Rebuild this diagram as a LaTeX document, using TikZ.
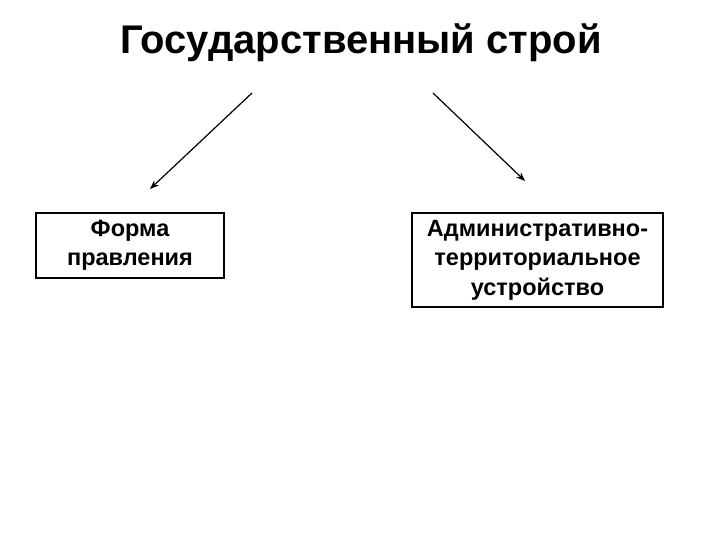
\documentclass[tikz,border=0pt]{standalone}
\usepackage{fontspec}
\setmainfont{Liberation Sans}
\usetikzlibrary{positioning, arrows.meta}

\begin{document}
\begin{tikzpicture}[x=1pt, y=-1pt,
  box/.style={draw, line width=1.5pt, align=center, font=\fontsize{23.5}{29.5}\selectfont\bfseries, inner sep=0pt},
  arr/.style={-{Stealth[length=9pt, width=7pt]}, line width=1.2pt}]
  \useasboundingbox (0,0) rectangle (720,540);
  \node[font=\fontsize{40}{46}\selectfont\bfseries] (title) at (361,43) {Государственный строй};

  \node[box, minimum width=188pt, minimum height=65pt] (forma) at (130,245.5) {Форма\\правления};
  \node[box, minimum width=251pt, minimum height=94pt] (ustr) at (537.5,260) {Административно-\\территориальное\\устройство};

  % arrows from the title
  \coordinate (l1) at (252,93);
  \coordinate (l2) at (150,189);
  \coordinate (r1) at (433,93);
  \coordinate (r2) at (525,181);
  \draw[arr] (l1) -- (l2);
  \draw[arr] (r1) -- (r2);
\end{tikzpicture}
\end{document}
